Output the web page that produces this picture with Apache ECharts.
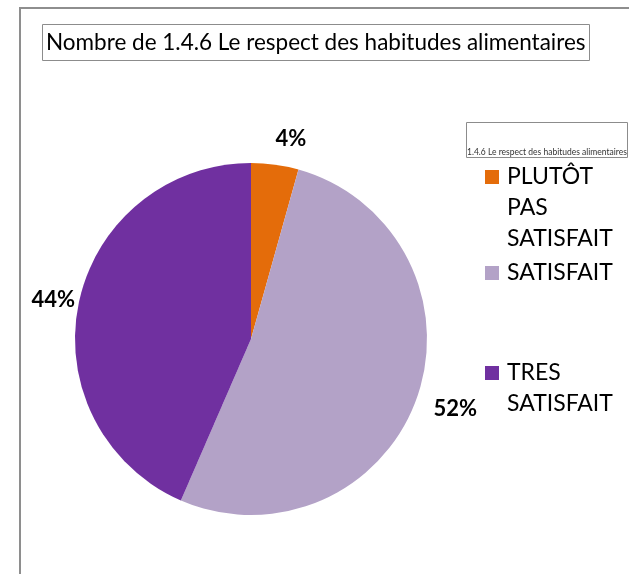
<!DOCTYPE html>
<html>
<head>
<meta charset="utf-8">
<script src="https://cdn.jsdelivr.net/npm/echarts@6/dist/echarts.min.js"></script>
<style>
  html, body { margin: 0; padding: 0; background: #fff; }
  .frame {
    position: absolute; left: 19px; top: 7px; width: 700px; height: 700px;
    border-left: 2px solid #8e8e8e; border-top: 2px solid #8e8e8e;
  }
  #chart { position: absolute; left: 0; top: 0; width: 629px; height: 574px; }
</style>
</head>
<body>
<div class="frame"></div>
<div id="chart"></div>
<script>
// données
var chartTitle = "Nombre de 1.4.6 Le respect des habitudes alimentaires";
var fieldName = "1.4.6 Le respect des habitudes alimentaires";
var categories = ["PLUTÔT PAS SATISFAIT", "SATISFAIT", "TRES SATISFAIT"];
var counts = [2, 24, 20];
var colors = ["#e46c0a", "#b3a2c7", "#7030a0"];
// centre vertical du carré de chaque entrée de légende
var legendCenters = [177, 273, 373];

var font = "Lato, 'Liberation Sans', sans-serif";
var lineH = 31;
var myChart = echarts.init(document.getElementById("chart"));

// un mot par ligne ; lignes vides au-dessus pour que le carré soit en face de la 1re ligne
function wrapName(name) {
  var words = name.split(" ");
  return new Array(words.length).join("\n") + words.join("\n");
}

var legends = categories.map(function (name, i) {
  var nLines = 2 * name.split(" ").length - 1;
  return {
    data: [name],
    orient: "vertical",
    left: 485,
    top: legendCenters[i] - (nLines * lineH) / 2,
    padding: 0,
    icon: "rect",
    itemWidth: 14,
    itemHeight: 14,
    selectedMode: false,
    formatter: wrapName,
    textStyle: {
      fontFamily: font,
      fontSize: 23,
      color: "#000",
      lineHeight: lineH,
      padding: [0, 0, 0, 3]
    }
  };
});

var option = {
  animation: false,
  color: colors,
  title: [
    {
      text: chartTitle,
      left: 42,
      top: 24,
      padding: [7, 4, 7, 4],
      borderWidth: 1,
      borderColor: "#8c8c8c",
      textStyle: { fontFamily: font, fontSize: 22.5, fontWeight: "normal", color: "#000" }
    },
    {
      text: fieldName,
      left: 466,
      top: 122,
      padding: [26, 1, 1, 1],
      borderWidth: 1,
      borderColor: "#8c8c8c",
      textStyle: { fontFamily: font, fontSize: 8.5, fontWeight: "normal", color: "#333" }
    }
  ],
  legend: legends,
  series: [
    {
      name: "Nombre",
      type: "pie",
      center: [251, 339],
      radius: 176,
      startAngle: 90,
      clockwise: true,
      percentPrecision: 0,
      avoidLabelOverlap: false,
      data: categories.map(function (name, i) {
        return { name: name, value: counts[i] };
      }),
      label: {
        show: true,
        position: "outside",
        formatter: "{d}%",
        fontFamily: font,
        fontSize: 22,
        fontWeight: "bold",
        color: "#000",
        distanceToLabelLine: 5
      },
      labelLine: { show: false, length: 28, length2: 0 },
      labelLayout: function () {
        return { align: "center", verticalAlign: "middle", dx: 7, dy: 2 };
      },
      emphasis: { disabled: true }
    }
  ]
};
myChart.setOption(option);
</script>
</body>
</html>
